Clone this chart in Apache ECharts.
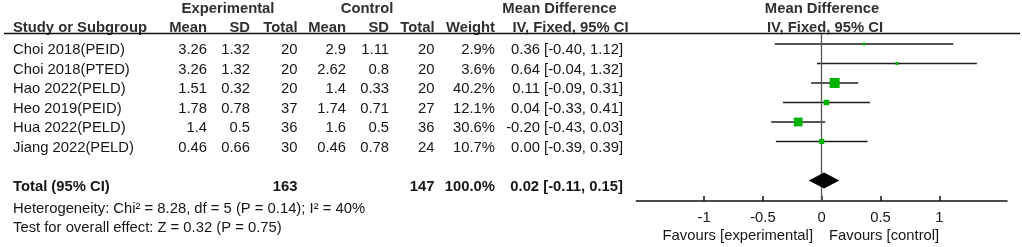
<!DOCTYPE html>
<html>
<head>
<meta charset="utf-8">
<script src="https://cdn.jsdelivr.net/npm/echarts@6/dist/echarts.min.js"></script>
<style>
  html, body { margin: 0; background: #fff; }
  #chart { width: 1022px; height: 247px; }
</style>
</head>
<body>
<div id="chart"></div>
<script>
// study rows
const studies = ['Choi 2018(PEID)', 'Choi 2018(PTED)', 'Hao 2022(PELD)', 'Heo 2019(PEID)', 'Hua 2022(PELD)', 'Jiang 2022(PELD)'];
const expMean = [3.26, 3.26, 1.51, 1.78, 1.4, 0.46];
const expSD = [1.32, 1.32, 0.32, 0.78, 0.5, 0.66];
const expTotal = [20, 20, 20, 37, 36, 30];
const ctlMean = [2.9, 2.62, 1.4, 1.74, 1.6, 0.46];
const ctlSD = [1.11, 0.8, 0.33, 0.71, 0.5, 0.78];
const ctlTotal = [20, 20, 20, 27, 36, 24];
const weight = [2.9, 3.6, 40.2, 12.1, 30.6, 10.7];
const md = [0.36, 0.64, 0.11, 0.04, -0.20, 0.00];
const ciLow = [-0.40, -0.04, -0.09, -0.33, -0.43, -0.39];
const ciHigh = [1.12, 1.32, 0.31, 0.41, 0.03, 0.39];

// pooled result
const totalExp = 163;
const totalCtl = 147;
const totalWeight = 100.0;
const totalMd = 0.02;
const totalLow = -0.11;
const totalHigh = 0.15;
const heterogeneity = 'Heterogeneity: Chi\u00b2 = 8.28, df = 5 (P = 0.14); I\u00b2 = 40%';
const overallTest = 'Test for overall effect: Z = 0.32 (P = 0.75)';

const axisTicks = [-1, -0.5, 0, 0.5, 1];

const font = 'Arial, "Liberation Sans", sans-serif';
const fs = 14.8;
const textColor = '#161616';
const headColor = '#303030';

// row geometry (pixels) shared by table text and plot axis
const rowTop = 44;
const rowGap = 19.5;
const rowY = (r) => rowTop + rowGap * r;
const textShift = 6;
const totalRow = studies.length + 1;

const fmtCI = (m, lo, hi) => `${m.toFixed(2)} [${lo.toFixed(2)}, ${hi.toFixed(2)}]`;

const graphics = [];
const txt = (x, y, text, align, bold, color) => {
  graphics.push({
    type: 'text',
    x, y,
    silent: true,
    style: {
      text,
      align,
      verticalAlign: 'middle',
      fill: color || textColor,
      font: `${bold ? 'bold ' : ''}${fs}px ${font}`,
    },
  });
};

// header
txt(228, 9, 'Experimental', 'center', true, headColor);
txt(367, 9, 'Control', 'center', true, headColor);
txt(559.5, 9, 'Mean Difference', 'center', true, headColor);
txt(822, 9, 'Mean Difference', 'center', true, headColor);
txt(13, 28, 'Study or Subgroup', 'left', true, headColor);
txt(207, 28, 'Mean', 'right', true, headColor);
txt(250, 28, 'SD', 'right', true, headColor);
txt(297.5, 28, 'Total', 'right', true, headColor);
txt(346, 28, 'Mean', 'right', true, headColor);
txt(389, 28, 'SD', 'right', true, headColor);
txt(434.5, 28, 'Total', 'right', true, headColor);
txt(495, 28, 'Weight', 'right', true, headColor);
txt(570.5, 28, 'IV, Fixed, 95% CI', 'center', true, headColor);
txt(825, 28, 'IV, Fixed, 95% CI', 'center', true, headColor);

graphics.push({
  type: 'line',
  silent: true,
  shape: { x1: 4, y1: 33.5, x2: 1020, y2: 33.5 },
  style: { stroke: '#111', lineWidth: 1.5 },
});

// study rows
studies.forEach((s, i) => {
  const y = rowY(i) + textShift;
  txt(13, y, s, 'left');
  txt(207, y, String(expMean[i]), 'right');
  txt(250, y, String(expSD[i]), 'right');
  txt(297.5, y, String(expTotal[i]), 'right');
  txt(346, y, String(ctlMean[i]), 'right');
  txt(389, y, String(ctlSD[i]), 'right');
  txt(434.5, y, String(ctlTotal[i]), 'right');
  txt(495, y, weight[i].toFixed(1) + '%', 'right');
  txt(623, y, fmtCI(md[i], ciLow[i], ciHigh[i]), 'right');
});

// total + tests
const ty = rowY(totalRow) + textShift;
txt(13, ty, 'Total (95% CI)', 'left', true);
txt(297.5, ty, String(totalExp), 'right', true);
txt(434.5, ty, String(totalCtl), 'right', true);
txt(495, ty, totalWeight.toFixed(1) + '%', 'right', true);
txt(623, ty, fmtCI(totalMd, totalLow, totalHigh), 'right', true);
txt(13, 208.5, heterogeneity, 'left');
txt(13, 227.5, overallTest, 'left');

// favours labels
txt(813, 236, 'Favours [experimental]', 'right');
txt(829, 236, 'Favours [control]', 'left');

const chart = echarts.init(document.getElementById('chart'), null, { renderer: 'canvas' });

const option = {
  animation: false,
  grid: {
    left: 636.4,
    width: 370.6,
    top: rowY(-0.5),
    height: 201 - rowY(-0.5),
  },
  xAxis: {
    type: 'value',
    position: 'bottom',
    min: -1.576,
    max: 1.576,
    axisLine: { onZero: false, lineStyle: { color: '#111', width: 1.5 } },
    axisTick: { inside: true, length: 5, customValues: axisTicks, lineStyle: { color: '#111', width: 1.5 } },
    axisLabel: {
      customValues: axisTicks,
      formatter: (v) => String(v),
      color: textColor,
      fontSize: fs,
      fontFamily: font,
      margin: 9,
    },
    splitLine: { show: false },
  },
  yAxis: {
    type: 'value',
    inverse: true,
    min: -0.5,
    max: (201 - rowTop) / rowGap,
    show: false,
  },
  graphic: graphics,
  series: [
    {
      // confidence intervals
      type: 'custom',
      data: studies.map((s, i) => [ciLow[i], ciHigh[i], i]),
      encode: { x: [0, 1], y: 2 },
      renderItem: (params, api) => {
        const a = api.coord([api.value(0), api.value(2)]);
        const b = api.coord([api.value(1), api.value(2)]);
        return {
          type: 'line',
          shape: { x1: a[0], y1: a[1], x2: b[0], y2: b[1] },
          style: { stroke: '#1e1e1e', lineWidth: 1.6 },
        };
      },
      markLine: {
        silent: true,
        symbol: 'none',
        label: { show: false },
        lineStyle: { color: '#555', width: 1.3, type: 'solid' },
        data: [{ xAxis: 0 }],
      },
    },
    {
      // study estimates, sized by weight
      type: 'scatter',
      symbol: 'rect',
      symbolSize: (v) => 1.58 * Math.sqrt(v[2]),
      itemStyle: { color: '#00b400', opacity: 1 },
      z: 5,
      data: studies.map((s, i) => [md[i], i, weight[i]]),
    },
    {
      // pooled diamond
      type: 'custom',
      z: 6,
      data: [[totalLow, totalMd, totalHigh, totalRow]],
      encode: { x: [0, 1, 2], y: 3 },
      renderItem: (params, api) => {
        const l = api.coord([api.value(0), api.value(3)]);
        const m = api.coord([api.value(1), api.value(3)]);
        const r = api.coord([api.value(2), api.value(3)]);
        return {
          type: 'polygon',
          shape: { points: [[l[0], l[1]], [m[0], m[1] - 8], [r[0], r[1]], [m[0], m[1] + 8]] },
          style: { fill: '#000' },
        };
      },
    },
  ],
};

chart.setOption(option);
</script>
</body>
</html>
